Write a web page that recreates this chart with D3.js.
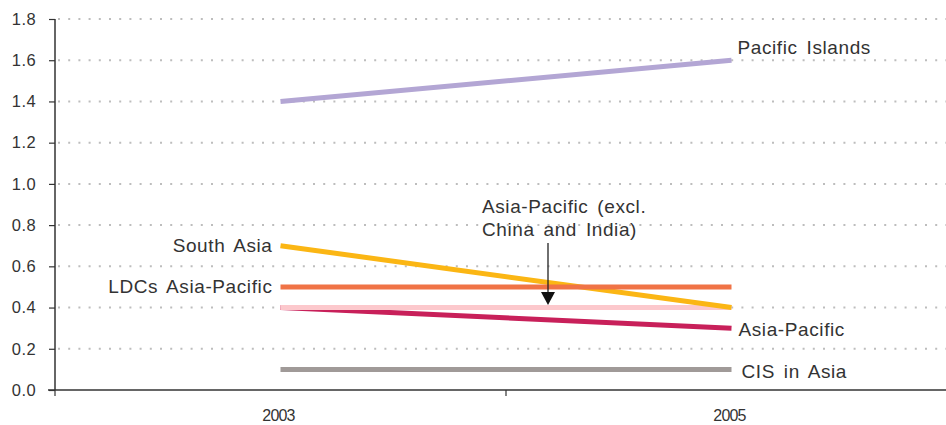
<!DOCTYPE html>
<html><head><meta charset="utf-8">
<script src="https://cdn.jsdelivr.net/npm/d3@7"></script>
<style>body{margin:0;background:#fff}svg{display:block}text{font-family:"Liberation Sans",Arial,sans-serif;fill:#333}</style>
</head><body>
<svg id="c" width="946" height="425"></svg>
<script>
const years = ["2003", "2005"];
const yTicks = [0, 0.2, 0.4, 0.6, 0.8, 1.0, 1.2, 1.4, 1.6, 1.8];
const seriesNames = ["Asia-Pacific", "Asia-Pacific (excl. China and India)", "South Asia", "LDCs Asia-Pacific", "Pacific Islands", "CIS in Asia"];
const asiaPacific = [0.4, 0.3];
const asiaPacificExcl = [0.4, 0.4];
const southAsia = [0.7, 0.4];
const ldcs = [0.5, 0.5];
const pacificIslands = [1.4, 1.6];
const cis = [0.1, 0.1];
const colors = ["#c8205a", "#fcc8cc", "#fbb614", "#f07346", "#b3a6d4", "#a09a98"];
const allValues = [asiaPacific, asiaPacificExcl, southAsia, ldcs, pacificIslands, cis];

const svg = d3.select("#c");
const x = d3.scaleBand().domain(years).range([55, 957]);
const y = d3.scaleLinear().domain([0, 1.8]).range([390, 19]);
const cx = d => x(d) + x.bandwidth() / 2;

// grid
svg.append("g").selectAll("line").data(yTicks.filter(t => t > 0)).join("line")
  .attr("x1", 58).attr("x2", 946).attr("y1", d => y(d)).attr("y2", d => y(d))
  .attr("stroke", "#bdbdbd").attr("stroke-width", 2).attr("stroke-dasharray", "2,8.2");

// y axis
const ya = svg.append("g").attr("transform", "translate(55,0)")
  .call(d3.axisLeft(y).tickValues(yTicks).tickFormat(d3.format(".1f")).tickSize(6).tickPadding(13));
ya.select(".domain").attr("stroke", "#333").attr("stroke-width", 1.5).attr("d", "M0,19V390");
ya.selectAll(".tick line").attr("stroke", "#333").attr("stroke-width", 1.2);
ya.selectAll(".tick text").attr("font-size", 16.5).attr("fill", "#333").attr("letter-spacing", 0.4)
  .style("font-family", "Liberation Sans, Arial, sans-serif");

// x axis
const xa = svg.append("g").attr("transform", "translate(0,390)")
  .call(d3.axisBottom(x).tickSize(0).tickPadding(20));
xa.select(".domain").attr("stroke", "#333").attr("stroke-width", 1.5).attr("d", "M48,0H946");
xa.selectAll(".tick text").attr("font-size", 16).attr("fill", "#333").attr("letter-spacing", -0.8)
  .attr("dx", -2).style("font-family", "Liberation Sans, Arial, sans-serif");
svg.append("g").selectAll("line").data([x("2003"), x("2005")]).join("line")
  .attr("x1", d => d).attr("x2", d => d).attr("y1", 390).attr("y2", 396)
  .attr("stroke", "#333").attr("stroke-width", 1.2);

// lines
const line = d3.line().x((d, i) => cx(years[i])).y(d => y(d));
svg.append("g").selectAll("path").data(allValues).join("path")
  .attr("d", d => line(d)).attr("fill", "none")
  .attr("stroke", (d, i) => colors[i]).attr("stroke-width", 5);

// labels
const lab = svg.append("g").attr("font-size", 19).attr("letter-spacing", 0.6).attr("word-spacing", 3);
const x0 = cx("2003"), x1 = cx("2005");
function t(xp, yp, s, anchor) {
  lab.append("text").attr("x", xp).attr("y", yp).attr("text-anchor", anchor || "start")
    .attr("dominant-baseline", "central").text(s);
}
t(x1 + 6, y(pacificIslands[1]) - 13, seriesNames[4]);
t(x0 - 8, y(southAsia[0]), seriesNames[2], "end");
t(x0 - 8, y(ldcs[0]), seriesNames[3], "end");
t(x1 + 7, y(asiaPacific[1]) + 1, seriesNames[0]);
t(x1 + 10, y(cis[1]) + 2, seriesNames[5]);
t(482, 206, "Asia-Pacific (excl.");
t(482, 229, "China and India)");

// arrow
svg.append("line").attr("x1", 548).attr("x2", 548).attr("y1", 243).attr("y2", 295)
  .attr("stroke", "#222").attr("stroke-width", 1.3);
svg.append("path").attr("d", "M541,292L555,292L548,305Z").attr("fill", "#111");
</script>
</body></html>
